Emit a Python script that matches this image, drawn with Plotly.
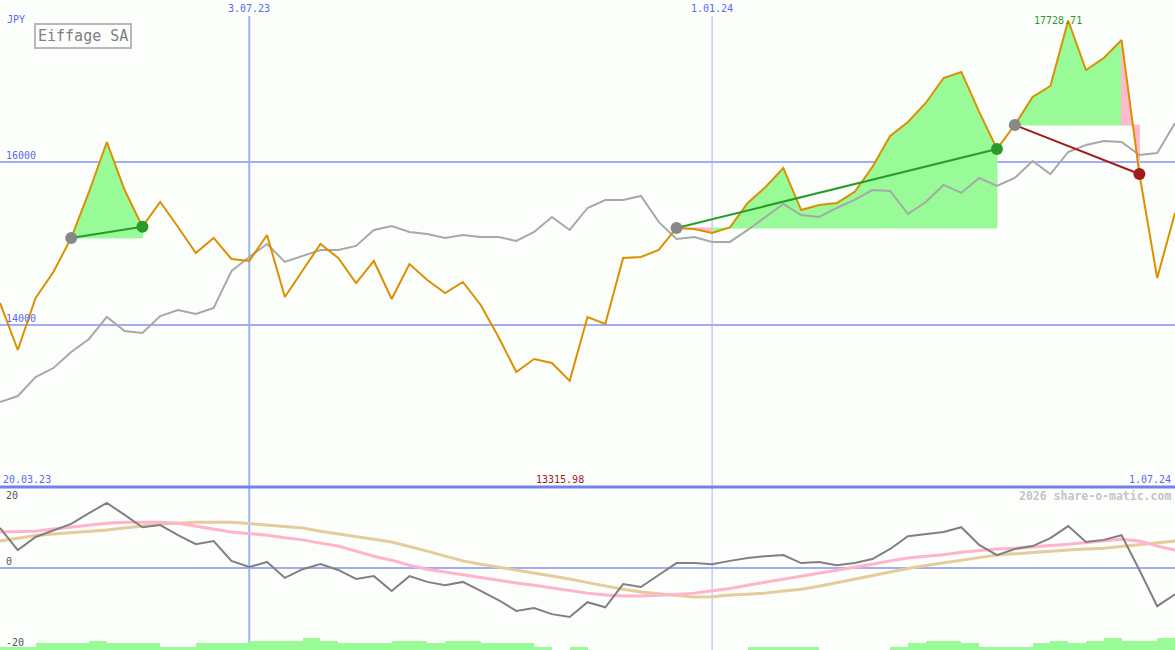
import pandas as pd
import plotly.graph_objects as go

# ---------------- data ----------------
dates = [d.strftime("%Y-%m-%d") for d in pd.date_range("2023-03-27", periods=67, freq="7D")]

price = [14270, 13694, 14331, 14649, 15066, 15629, 16241, 15653, 15204, 15506,
         15200, 14882, 15066, 14808, 14784, 15102, 14343, 14674, 14992, 14821,
         14514, 14784, 14318, 14747, 14551, 14392, 14527, 14245, 13853, 13424,
         13584, 13535, 13315.98, 14098, 14012, 14821, 14833, 14919, 15188, 15176,
         15127, 15195, 15494, 15690, 15923, 15408, 15470, 15494, 15629, 15935,
         16315, 16486, 16719, 17025, 17099, 16609, 16156, 16449, 16792, 16927,
         17728.71, 17123, 17270, 17490, 15849, 14576, 15372]

benchmark = [13057, 13130, 13363, 13473, 13669, 13829, 14098, 13927, 13902, 14110,
             14184, 14135, 14208, 14661, 14833, 14992, 14772, 14845, 14919, 14919,
             14968, 15164, 15213, 15139, 15115, 15066, 15102, 15078, 15078, 15029,
             15139, 15323, 15164, 15433, 15531, 15531, 15580, 15262, 15053, 15078,
             15017, 15017, 15164, 15323, 15482, 15347, 15323, 15433, 15531, 15653,
             15641, 15359, 15506, 15715, 15617, 15800, 15702, 15800, 16009, 15849,
             16119, 16205, 16254, 16241, 16082, 16107, 16474]

momentum = [11.0, 4.9, 8.5, 10.4, 12.1, 15.1, 17.9, 14.6, 11.2, 11.8,
            9.0, 6.5, 7.4, 1.9, 0.2, 1.6, -2.8, -0.4, 1.0, -0.6,
            -3.1, -2.3, -6.4, -2.3, -3.9, -4.8, -3.9, -6.4, -8.9, -11.9,
            -11.1, -12.8, -13.6, -9.5, -10.9, -4.5, -5.3, -2.0, 1.3, 1.3,
            1.0, 1.9, 2.7, 3.2, 3.5, 1.3, 1.6, 0.7, 1.3, 2.4,
            5.2, 8.7, 9.3, 9.9, 11.2, 6.3, 3.5, 5.2, 6.0, 8.2,
            11.5, 7.1, 7.7, 9.0, -0.6, -10.6, -7.3]

avg_fast = [9.9, 10.0, 10.1, 10.7, 11.2, 11.9, 12.3, 12.6, 12.6, 12.6,
            12.3, 11.5, 10.7, 9.9, 9.4, 9.0, 8.3, 7.7, 6.8, 6.0,
            4.6, 3.2, 2.1, 0.7, -0.4, -1.2, -2.0, -2.8, -3.4, -4.2,
            -4.8, -5.6, -6.4, -7.0, -7.5, -7.8, -7.8, -7.7, -7.4, -7.0,
            -6.4, -5.7, -4.8, -4.0, -3.1, -2.3, -1.5, -0.6, 0.2, 1.0,
            1.9, 2.7, 3.2, 3.6, 4.3, 4.8, 5.2, 5.4, 5.7, 6.1,
            6.5, 7.0, 7.4, 7.9, 7.4, 6.0, 4.9]

avg_slow = [7.4, 8.2, 8.9, 9.3, 9.6, 10.0, 10.4, 11.0, 11.5, 12.1,
            12.3, 12.6, 12.6, 12.6, 12.2, 11.8, 11.4, 11.0, 10.1, 9.4,
            8.8, 7.9, 7.1, 5.9, 4.6, 3.2, 1.9, 1.0, 0.2, -0.6,
            -1.5, -2.3, -3.1, -4.1, -5.1, -5.9, -6.7, -7.2, -7.8, -8.1,
            -8.0, -7.5, -7.3, -7.0, -6.4, -5.9, -5.1, -4.1, -3.3, -2.3,
            -1.2, -0.2, 0.6, 1.4, 2.1, 2.8, 3.5, 3.9, 4.2, 4.6,
            4.9, 5.2, 5.4, 5.9, 6.4, 6.8, 7.4]

volume = [1, 1, 2, 2, 2, 2.7, 2, 2, 2, 1,
          1, 2, 2, 2, 2.7, 2.7, 2.7, 3.7, 2.7, 2,
          2, 2, 2.7, 2.7, 2, 2.7, 2.7, 2, 2, 2,
          1, 0, 1, 0, 0, 0, 0, 0, 0, 0,
          0, 0, 1, 1, 1, 1, 0, 0, 0, 0,
          1, 2, 2.7, 2.7, 2, 1, 1, 1, 2, 2.7,
          2, 2.7, 3.7, 2.7, 2.7, 3.7, 3.7]

# trades: (entry date, exit date)
trades = [("2023-04-24", "2023-05-22"), ("2023-12-18", "2024-04-22"), ("2024-04-29", "2024-06-17")]

GREEN_FILL = "#98fb98"
PINK_FILL = "#ffb8cc"
ORANGE = "#dc9000"
GREEN = "#2a9a2a"
RED = "#a01c1c"
BLUE_TXT = "#5a6af0"
GRID = "#a4acf2"
FONT = "DejaVu Sans Mono"

fig = go.Figure()

# volume-style bars at bottom of lower panel
fig.add_trace(go.Bar(x=dates, y=volume, offset=0, width=7 * 86400000,
                     marker=dict(color=GREEN_FILL, line=dict(width=0)),
                     yaxis="y3", showlegend=False, hoverinfo="skip"))

# trade fills (per segment: green if segment ends above entry, pink otherwise)
gx, gy, px_, py_ = [], [], [], []
for ent, ext in trades:
    i0 = dates.index(ent)
    i1 = dates.index(ext)
    base = price[i0]
    for a in range(i0, i1):
        b = a + 1
        xs = [dates[a], dates[a], dates[b], dates[b], dates[a], None]
        ys = [base, price[a], price[b], base, base, None]
        if price[b] >= base:
            gx += xs; gy += ys
        else:
            px_ += xs; py_ += ys
fig.add_trace(go.Scatter(x=gx, y=gy, mode="lines", fill="toself", fillcolor=GREEN_FILL,
                         line=dict(color=GREEN_FILL, width=1), showlegend=False, hoverinfo="skip"))
fig.add_trace(go.Scatter(x=px_, y=py_, mode="lines", fill="toself", fillcolor=PINK_FILL,
                         line=dict(color=PINK_FILL, width=1), showlegend=False, hoverinfo="skip"))

# benchmark + price
fig.add_trace(go.Scatter(x=dates, y=benchmark, mode="lines", line=dict(color="#a8a8a8", width=2),
                         showlegend=False))
fig.add_trace(go.Scatter(x=dates, y=price, mode="lines", line=dict(color=ORANGE, width=2),
                         showlegend=False))

# trade lines and markers
for ent, ext in trades:
    i0 = dates.index(ent)
    i1 = dates.index(ext)
    col = GREEN if price[i1] >= price[i0] else RED
    fig.add_trace(go.Scatter(x=[dates[i0], dates[i1]], y=[price[i0], price[i1]], mode="lines",
                             line=dict(color=col, width=2), showlegend=False))
    fig.add_trace(go.Scatter(x=[dates[i0]], y=[price[i0]], mode="markers",
                             marker=dict(color="#888888", size=12), showlegend=False))
    fig.add_trace(go.Scatter(x=[dates[i1]], y=[price[i1]], mode="markers",
                             marker=dict(color=col, size=12), showlegend=False))

# lower panel lines
fig.add_trace(go.Scatter(x=dates, y=avg_slow, mode="lines", line=dict(color="#e4cc9c", width=3),
                         yaxis="y2", showlegend=False))
fig.add_trace(go.Scatter(x=dates, y=avg_fast, mode="lines", line=dict(color="#ffb4cc", width=3),
                         yaxis="y2", showlegend=False))
fig.add_trace(go.Scatter(x=dates, y=momentum, mode="lines", line=dict(color="#808080", width=2),
                         yaxis="y2", showlegend=False))

split = 163 / 650

fig.update_layout(
    width=1175, height=650,
    margin=dict(l=0, r=0, t=0, b=0),
    paper_bgcolor="#fcfefc", plot_bgcolor="#fcfefc",
    font=dict(family=FONT, size=10),
    showlegend=False,
    bargap=0,
    xaxis=dict(type="date", range=["2023-03-27", "2024-07-01"], showgrid=False, zeroline=False,
               showticklabels=False, showline=False, ticks="", anchor="y2"),
    yaxis=dict(domain=[split, 1], range=[12016, 17980], tickvals=[14000, 16000],
               showgrid=True, gridcolor=GRID, gridwidth=2, zeroline=False,
               showticklabels=False, showline=False, ticks=""),
    yaxis2=dict(domain=[0, split], range=[-22.7, 22.3], tickvals=[0],
                showgrid=True, gridcolor=GRID, gridwidth=2, zeroline=False,
                showticklabels=False, showline=False, ticks=""),
    yaxis3=dict(overlaying="y2", range=[0, 49], visible=False),
)

# vertical date lines
fig.add_shape(type="line", xref="x", yref="paper", x0="2023-07-03", x1="2023-07-03",
              y0=0, y1=1 - 16 / 650, line=dict(color="#a0b2f4", width=2), layer="below")
fig.add_shape(type="line", xref="x", yref="paper", x0="2024-01-01", x1="2024-01-01",
              y0=0, y1=1 - 16 / 650, line=dict(color="#aab2e4", width=1), layer="below")
# panel separator
fig.add_shape(type="line", xref="paper", yref="paper", x0=0, x1=1, y0=split, y1=split,
              line=dict(color="#7282ea", width=3), layer="below")

def ann(text, x, y, xref="paper", yref="paper", color=BLUE_TXT, size=10, xanchor="center",
        yanchor="middle", **kw):
    fig.add_annotation(text=text, x=x, y=y, xref=xref, yref=yref, showarrow=False,
                       font=dict(family=FONT, size=size, color=color),
                       xanchor=xanchor, yanchor=yanchor, **kw)

ann("JPY", 5 / 1175, 1 - 19 / 650, xanchor="left")
ann("Eiffage SA", 83 / 1175, 1 - 36 / 650, color="#808080", size=15,
    bordercolor="#b8b8b8", borderwidth=2, borderpad=2)
ann("3.07.23", "2023-07-03", 1 - 9 / 650, xref="x")
ann("1.01.24", "2024-01-01", 1 - 9 / 650, xref="x")
ann("17728.71", 1058 / 1175, 1 - 21 / 650, color=GREEN)
ann("16000", 4 / 1175, 16000, yref="y", xanchor="left", yanchor="bottom", yshift=-1)
ann("14000", 4 / 1175, 14000, yref="y", xanchor="left", yanchor="bottom", yshift=-1)
ann("20.03.23", 1 / 1175, 1 - 479 / 650, xanchor="left")
ann("1.07.24", 1173 / 1175, 1 - 479 / 650, xanchor="right")
ann("13315.98", 560 / 1175, 1 - 479 / 650, color=RED)
ann("2026 share-o-matic.com", 1173 / 1175, 1 - 496 / 650, color="#c4c4c4", size=11.5,
    xanchor="right")
fig.layout.annotations[-1].font.weight = "bold"
ann("20", 4 / 1175, 20, yref="y2", color="#555555", xanchor="left")
ann("0", 4 / 1175, 0, yref="y2", color="#555555", xanchor="left", yanchor="bottom", yshift=-1)
ann("-20", 4 / 1175, -20, yref="y2", color="#555555", xanchor="left", yshift=-2)

fig.write_html("out.html", config={"displayModeBar": False},
               post_script="document.body.style.margin='0';document.body.style.overflow='hidden';")
